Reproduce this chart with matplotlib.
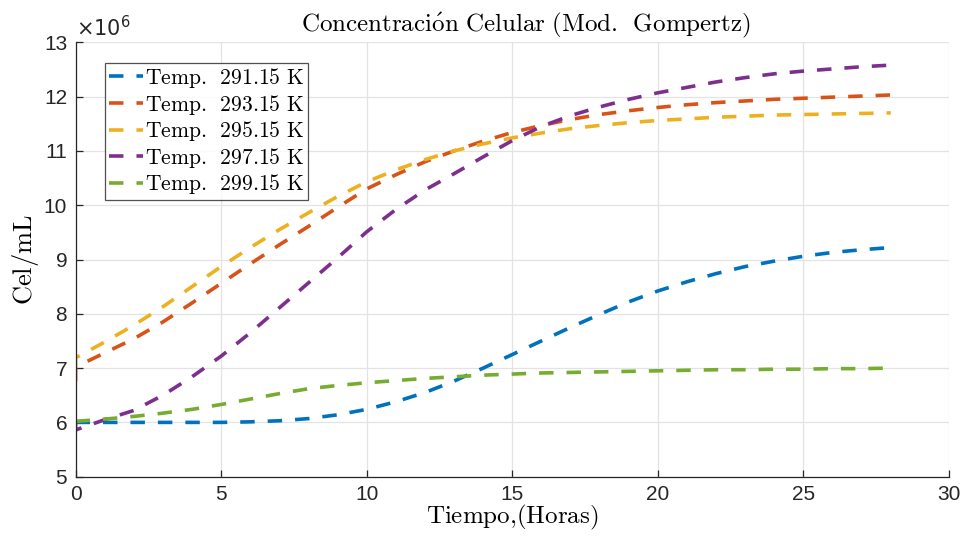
import numpy as np
import matplotlib
matplotlib.use("Agg")
import matplotlib.pyplot as plt

plt.rcParams['mathtext.fontset'] = 'cm'
plt.rcParams['font.family'] = ['Liberation Sans', 'DejaVu Sans']

# tiempo en horas y concentracion celular (x 10^6 cel/mL)
horas = np.arange(0, 29)
temps = ['291.15', '293.15', '295.15', '297.15', '299.15']
y_inicial = [6.00, 6.76, 7.01, 6.01, 6.02]

c_291 = [6.00, 6.00, 6.00, 6.00, 6.00, 6.00, 6.01, 6.03, 6.07, 6.14,
         6.24, 6.38, 6.55, 6.76, 7.00, 7.25, 7.50, 7.75, 7.99, 8.22,
         8.42, 8.59, 8.74, 8.87, 8.97, 9.06, 9.13, 9.18, 9.22]
c_293 = [7.02, 7.28, 7.54, 7.85, 8.20, 8.56, 8.92, 9.27, 9.61, 9.96,
         10.30, 10.56, 10.80, 11.00, 11.18, 11.34, 11.47, 11.58, 11.67, 11.74,
         11.80, 11.85, 11.89, 11.92, 11.95, 11.97, 11.99, 12.01, 12.03]
c_295 = [7.19, 7.48, 7.79, 8.13, 8.50, 8.87, 9.22, 9.55, 9.86, 10.16,
         10.43, 10.65, 10.84, 11.00, 11.13, 11.24, 11.33, 11.41, 11.47, 11.52,
         11.56, 11.59, 11.62, 11.64, 11.66, 11.67, 11.68, 11.69, 11.70]
c_297 = [5.86, 6.05, 6.22, 6.50, 6.84, 7.22, 7.65, 8.11, 8.57, 9.03,
         9.51, 9.92, 10.28, 10.58, 10.89, 11.19, 11.45, 11.65, 11.81, 11.95,
         12.07, 12.17, 12.27, 12.35, 12.42, 12.47, 12.51, 12.55, 12.58]
c_299 = [6.02, 6.06, 6.11, 6.17, 6.24, 6.33, 6.43, 6.53, 6.62, 6.68,
         6.73, 6.77, 6.81, 6.84, 6.87, 6.89, 6.91, 6.92, 6.93, 6.94,
         6.95, 6.96, 6.97, 6.97, 6.98, 6.98, 6.99, 6.99, 7.00]
series = [c_291, c_293, c_295, c_297, c_299]

colores = ['#0072BD', '#D95319', '#EDB120', '#7E2F8E', '#77AC30']

fig = plt.figure(figsize=(9.64, 5.39), dpi=100)
ax = fig.add_axes([0.0784, 0.1156, 0.9060, 0.8059])

for T, y0, c, col in zip(temps, y_inicial, series, colores):
    t = np.r_[0, horas]
    y = np.r_[y0, c]
    ax.plot(t, y, color=col, lw=2.6, dashes=(4.0, 3.6),
            label=r'$\mathrm{Temp.\ \,%s\ K}$' % T)

ax.set_xlim(0, 30)
ax.set_ylim(5, 13)
ax.set_xticks(np.arange(0, 31, 5))
ax.set_yticks(np.arange(5, 14, 1))
ax.grid(True, color='#e3e3e3', lw=0.9)
ax.set_axisbelow(True)
for s in ['top', 'right']:
    ax.spines[s].set_visible(False)
for s in ['left', 'bottom']:
    ax.spines[s].set_color('#262626')
    ax.spines[s].set_linewidth(0.9)
ax.tick_params(direction='in', length=5, width=0.9, color='#262626',
               labelsize=15, labelcolor='#262626', pad=6)

ax.text(0.0, 1.005, r'$\times10^{6}$', transform=ax.transAxes,
        fontsize=15, color='#262626', math_fontfamily='dejavusans',
        ha='left', va='bottom')

ax.set_title(r'$\mathrm{Concentraci\acute{o}n\ Celular\ (Mod.\ \,Gompertz)}$',
             fontsize=18, pad=8, x=0.515)
ax.set_xlabel(r'$\mathrm{Tiempo{,}(Horas)}$', fontsize=18, labelpad=-1)
ax.set_ylabel(r'$\mathrm{Cel/mL}$', fontsize=19, labelpad=2)

leg = ax.legend(loc='upper left', bbox_to_anchor=(0.034, 0.953),
                borderaxespad=0, fontsize=15.6, frameon=True, fancybox=False,
                handlelength=1.6, handletextpad=0.1, labelspacing=0.12,
                borderpad=0.15)
leg.get_frame().set_edgecolor('#262626')
leg.get_frame().set_linewidth(0.9)

fig.savefig('out.png', dpi=100)
